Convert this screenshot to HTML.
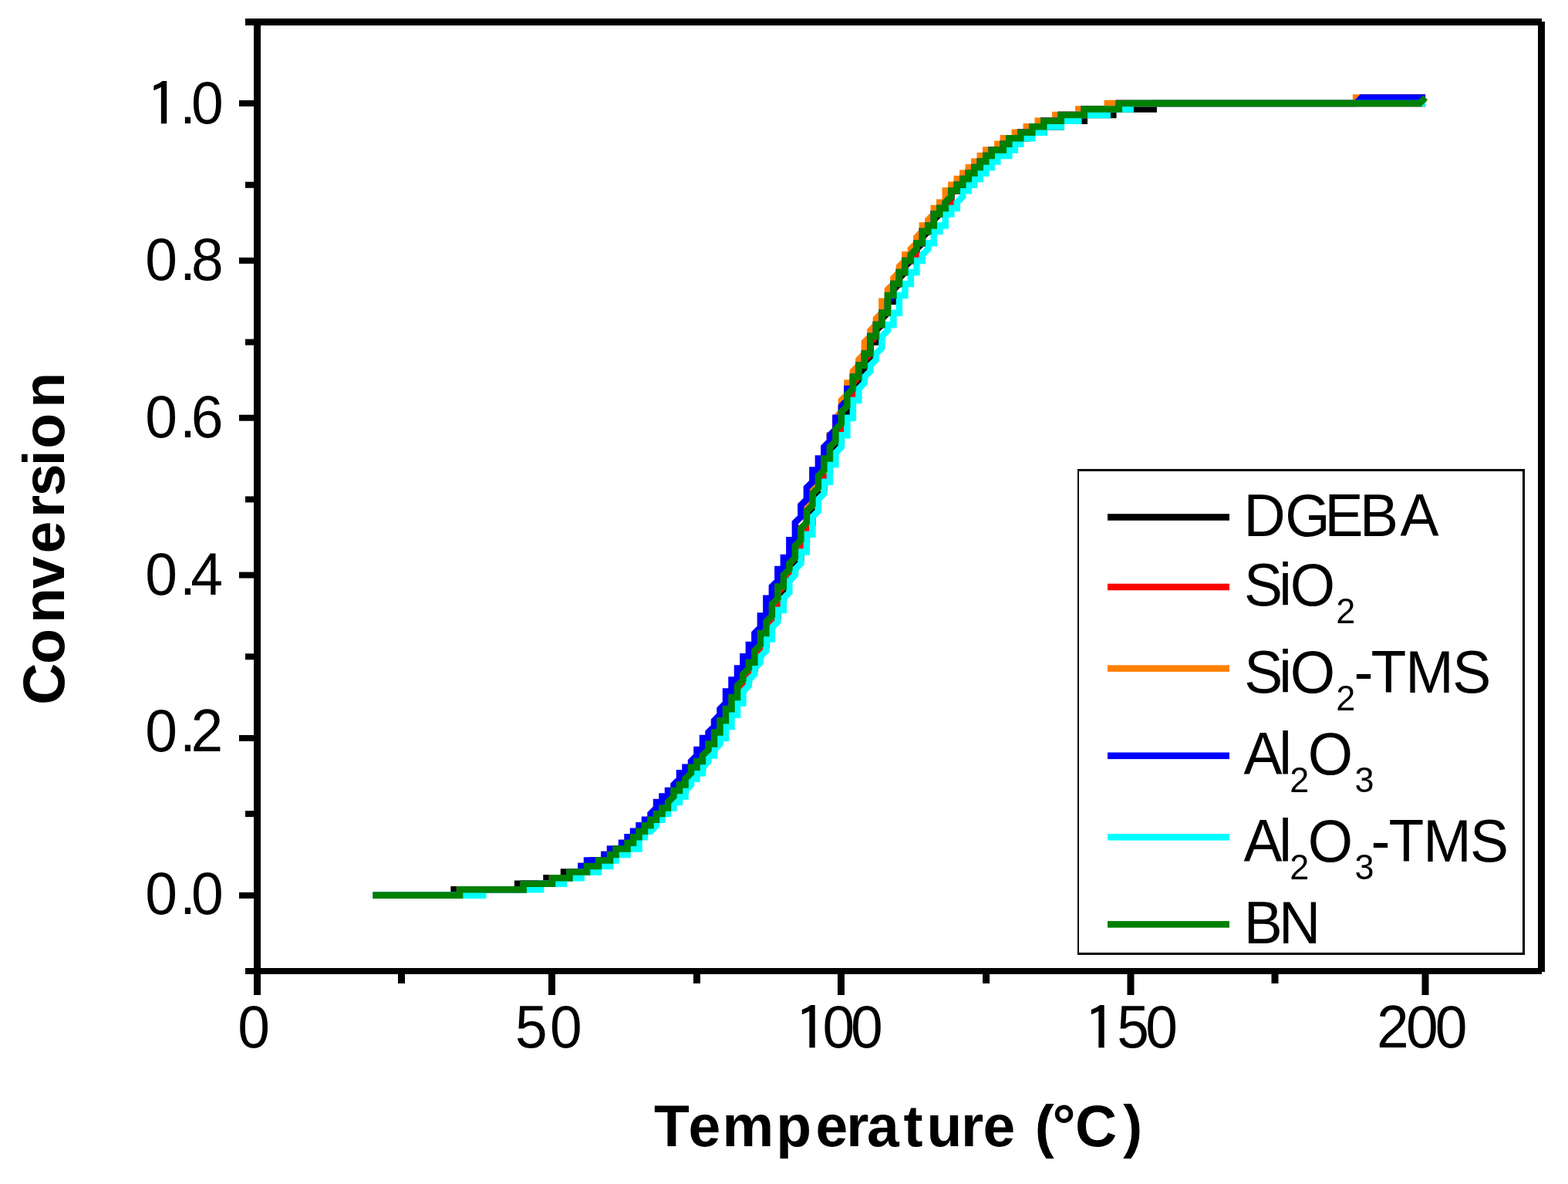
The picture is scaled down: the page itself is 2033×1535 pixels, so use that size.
<!DOCTYPE html>
<html lang="en"><head><meta charset="utf-8"><title>Conversion vs Temperature</title>
<style>html,body{margin:0;padding:0;background:#fff;}body{width:2033px;height:1535px;}svg{display:block;}text{font-family:"Liberation Sans", Arial, Helvetica, sans-serif;fill:#000;font-size:75px;white-space:pre;}.b{font-weight:bold;}.s{font-size:45px;}.i{font-family:IPAGothic,"Liberation Sans",sans-serif;}</style></head><body>
<svg width="2033" height="1535" viewBox="0 0 2033 1535">
<rect x="0.00" y="0.00" width="2033.00" height="1535.00" fill="#fff"/>
<g id="curves">
<path d="M483.6,1160.8 L588.6,1160.8 L588.6,1153.2 L671.1,1153.2 L671.1,1145.7 L708.5,1145.7 L708.5,1138.2 L731.0,1138.2 L731.0,1130.6 L753.5,1130.6 L753.5,1123.0 L768.5,1123.0 L768.5,1115.5 L783.5,1115.5 L783.5,1107.9 L798.5,1107.9 L798.5,1100.4 L813.5,1100.4 L813.5,1092.8 L821.0,1092.8 L821.0,1085.3 L828.5,1085.3 L828.5,1077.8 L836.0,1077.8 L836.0,1070.2 L843.5,1070.2 L843.5,1062.7 L851.0,1062.7 L851.0,1055.1 L858.5,1055.1 L858.5,1047.5 L866.0,1047.5 L866.0,1040.0 L873.5,1040.0 L873.5,1032.4 L881.0,1032.4 L881.0,1024.9 L888.5,1024.9 L888.5,1017.4 L896.0,1009.8 L896.0,1002.2 L903.5,1002.2 L903.5,994.7 L911.0,994.7 L911.0,987.1 L918.5,979.6 L918.5,972.0 L926.0,972.0 L926.0,964.5 L933.5,956.9 L933.5,949.4 L941.0,941.9 L941.0,934.3 L948.5,926.8 L948.5,919.2 L956.0,911.6 L956.0,904.1 L963.4,896.5 L963.4,881.4 L970.9,881.4 L970.9,866.4 L978.4,866.4 L978.4,858.8 L985.9,851.2 L985.9,836.1 L993.4,836.1 L993.4,821.0 L1000.9,813.5 L1000.9,798.4 L1008.4,798.4 L1008.4,775.8 L1015.9,775.8 L1015.9,760.6 L1023.4,753.1 L1023.4,738.0 L1030.9,738.0 L1030.9,722.9 L1038.4,722.9 L1038.4,700.2 L1045.9,700.2 L1045.9,677.6 L1053.4,677.6 L1053.4,654.9 L1060.9,647.4 L1060.9,632.3 L1068.4,632.3 L1068.4,609.6 L1075.9,609.6 L1075.9,594.5 L1083.4,587.0 L1083.4,571.9 L1090.9,571.9 L1090.9,549.2 L1098.4,541.7 L1098.4,526.6 L1105.9,519.0 L1105.9,503.9 L1113.4,496.4 L1113.4,481.3 L1120.9,481.3 L1120.9,466.2 L1128.4,466.2 L1128.4,443.6 L1135.9,443.6 L1135.9,428.4 L1143.4,420.9 L1143.4,413.3 L1150.9,405.8 L1150.9,390.7 L1158.4,390.7 L1158.4,375.6 L1165.9,368.0 L1165.9,360.5 L1173.4,352.9 L1173.4,345.4 L1180.9,337.9 L1180.9,330.3 L1188.4,330.3 L1188.4,322.8 L1195.9,315.2 L1195.9,307.6 L1203.4,300.1 L1203.4,292.5 L1210.8,292.5 L1210.8,285.0 L1218.3,277.4 L1218.3,269.9 L1225.8,269.9 L1225.8,262.4 L1233.3,262.4 L1233.3,247.2 L1240.8,247.2 L1240.8,239.7 L1248.3,239.7 L1248.3,232.1 L1255.8,232.1 L1255.8,224.6 L1263.3,224.6 L1263.3,217.1 L1270.8,217.1 L1270.8,209.5 L1278.3,209.5 L1278.3,201.9 L1285.8,201.9 L1285.8,194.4 L1300.8,194.4 L1300.8,186.8 L1315.8,186.8 L1315.8,179.3 L1330.8,179.3 L1330.8,171.8 L1353.3,171.8 L1353.3,164.2 L1375.8,164.2 L1375.8,156.7 L1405.8,156.7 L1405.8,149.1 L1443.3,149.1 L1443.3,141.6 L1495.7,141.6 L1495.7,134.0 L1848.1,134.0" fill="none" stroke="#000000" stroke-width="8.5" stroke-linejoin="miter" stroke-miterlimit="10"/>
<path d="M483.6,1160.8 L596.1,1160.8 L596.1,1153.2 L678.6,1153.2 L678.6,1145.7 L716.0,1145.7 L716.0,1138.2 L738.5,1138.2 L738.5,1130.6 L761.0,1130.6 L761.0,1123.0 L776.0,1123.0 L776.0,1115.5 L791.0,1115.5 L791.0,1107.9 L798.5,1107.9 L798.5,1100.4 L813.5,1100.4 L813.5,1092.8 L821.0,1092.8 L821.0,1085.3 L828.5,1085.3 L828.5,1077.8 L836.0,1077.8 L836.0,1070.2 L843.5,1070.2 L843.5,1062.7 L851.0,1062.7 L851.0,1055.1 L858.5,1055.1 L858.5,1047.5 L866.0,1047.5 L866.0,1040.0 L873.5,1032.4 L873.5,1024.9 L881.0,1024.9 L881.0,1017.4 L888.5,1017.4 L888.5,1009.8 L896.0,1009.8 L896.0,1002.2 L903.5,994.7 L903.5,987.1 L911.0,987.1 L911.0,979.6 L918.5,972.0 L918.5,964.5 L926.0,964.5 L926.0,949.4 L933.5,949.4 L933.5,934.3 L941.0,934.3 L941.0,919.2 L948.5,919.2 L948.5,904.1 L956.0,904.1 L956.0,889.0 L963.4,889.0 L963.4,873.9 L970.9,873.9 L970.9,858.8 L978.4,858.8 L978.4,843.7 L985.9,843.7 L985.9,828.6 L993.4,821.0 L993.4,805.9 L1000.9,805.9 L1000.9,783.3 L1008.4,783.3 L1008.4,768.2 L1015.9,760.6 L1015.9,745.5 L1023.4,745.5 L1023.4,730.4 L1030.9,722.9 L1030.9,707.8 L1038.4,707.8 L1038.4,685.1 L1045.9,685.1 L1045.9,662.5 L1053.4,654.9 L1053.4,639.8 L1060.9,632.3 L1060.9,617.2 L1068.4,617.2 L1068.4,602.1 L1075.9,594.5 L1075.9,579.5 L1083.4,571.9 L1083.4,556.8 L1090.9,556.8 L1090.9,534.1 L1098.4,526.6 L1098.4,511.5 L1105.9,511.5 L1105.9,496.4 L1113.4,488.8 L1113.4,473.8 L1120.9,473.8 L1120.9,466.2 L1128.4,458.6 L1128.4,443.6 L1135.9,436.0 L1135.9,420.9 L1143.4,420.9 L1143.4,405.8 L1150.9,405.8 L1150.9,390.7 L1158.4,383.1 L1158.4,368.0 L1165.9,368.0 L1165.9,352.9 L1173.4,352.9 L1173.4,337.9 L1180.9,337.9 L1180.9,330.3 L1188.4,330.3 L1188.4,315.2 L1195.9,315.2 L1195.9,300.1 L1203.4,300.1 L1203.4,292.5 L1210.8,292.5 L1210.8,277.4 L1218.3,277.4 L1218.3,269.9 L1225.8,269.9 L1225.8,262.4 L1233.3,262.4 L1233.3,247.2 L1240.8,247.2 L1240.8,239.7 L1248.3,239.7 L1248.3,232.1 L1255.8,232.1 L1255.8,224.6 L1263.3,224.6 L1263.3,217.1 L1270.8,217.1 L1270.8,209.5 L1278.3,209.5 L1278.3,201.9 L1285.8,201.9 L1285.8,194.4 L1300.8,194.4 L1300.8,186.8 L1308.3,186.8 L1308.3,179.3 L1323.3,179.3 L1323.3,171.8 L1338.3,171.8 L1338.3,164.2 L1353.3,164.2 L1353.3,156.7 L1375.8,156.7 L1375.8,149.1 L1405.8,149.1 L1405.8,141.6 L1450.8,141.6 L1450.8,134.0 L1848.1,134.0" fill="none" stroke="#ff0000" stroke-width="8.5" stroke-linejoin="miter" stroke-miterlimit="10"/>
<path d="M483.6,1160.8 L596.1,1160.8 L596.1,1153.2 L678.6,1153.2 L678.6,1145.7 L716.0,1145.7 L716.0,1138.2 L738.5,1138.2 L738.5,1130.6 L761.0,1130.6 L761.0,1123.0 L776.0,1123.0 L776.0,1115.5 L791.0,1115.5 L791.0,1107.9 L798.5,1107.9 L798.5,1100.4 L813.5,1100.4 L813.5,1092.8 L821.0,1092.8 L821.0,1085.3 L828.5,1085.3 L828.5,1077.8 L836.0,1077.8 L836.0,1070.2 L843.5,1070.2 L843.5,1062.7 L851.0,1062.7 L851.0,1055.1 L858.5,1055.1 L858.5,1047.5 L866.0,1047.5 L866.0,1040.0 L873.5,1032.4 L873.5,1024.9 L881.0,1024.9 L881.0,1017.4 L888.5,1017.4 L888.5,1009.8 L896.0,1002.2 L896.0,994.7 L903.5,994.7 L903.5,987.1 L911.0,987.1 L911.0,979.6 L918.5,972.0 L918.5,964.5 L926.0,964.5 L926.0,949.4 L933.5,949.4 L933.5,934.3 L941.0,934.3 L941.0,919.2 L948.5,919.2 L948.5,904.1 L956.0,904.1 L956.0,889.0 L963.4,881.4 L963.4,873.9 L970.9,866.4 L970.9,858.8 L978.4,858.8 L978.4,843.7 L985.9,836.1 L985.9,821.0 L993.4,821.0 L993.4,805.9 L1000.9,798.4 L1000.9,783.3 L1008.4,775.8 L1008.4,760.6 L1015.9,760.6 L1015.9,745.5 L1023.4,738.0 L1023.4,730.4 L1030.9,722.9 L1030.9,707.8 L1038.4,700.2 L1038.4,685.1 L1045.9,677.6 L1045.9,654.9 L1053.4,654.9 L1053.4,632.3 L1060.9,632.3 L1060.9,609.6 L1068.4,609.6 L1068.4,587.0 L1075.9,587.0 L1075.9,564.3 L1083.4,564.3 L1083.4,541.7 L1090.9,534.1 L1090.9,519.0 L1098.4,511.5 L1098.4,496.4 L1105.9,496.4 L1105.9,481.3 L1113.4,473.8 L1113.4,466.2 L1120.9,458.6 L1120.9,443.6 L1128.4,436.0 L1128.4,428.4 L1135.9,420.9 L1135.9,413.3 L1143.4,405.8 L1143.4,390.7 L1150.9,390.7 L1150.9,375.6 L1158.4,368.0 L1158.4,360.5 L1165.9,352.9 L1165.9,345.4 L1173.4,337.9 L1173.4,330.3 L1180.9,330.3 L1180.9,322.8 L1188.4,315.2 L1188.4,307.6 L1195.9,300.1 L1195.9,292.5 L1203.4,292.5 L1203.4,285.0 L1210.8,277.4 L1210.8,269.9 L1218.3,269.9 L1218.3,262.4 L1225.8,262.4 L1225.8,247.2 L1233.3,247.2 L1233.3,239.7 L1240.8,239.7 L1240.8,232.1 L1248.3,232.1 L1248.3,224.6 L1255.8,224.6 L1255.8,217.1 L1263.3,217.1 L1263.3,209.5 L1270.8,209.5 L1270.8,201.9 L1278.3,201.9 L1278.3,194.4 L1293.3,194.4 L1293.3,186.8 L1300.8,186.8 L1300.8,179.3 L1315.8,179.3 L1315.8,171.8 L1330.8,171.8 L1330.8,164.2 L1345.8,164.2 L1345.8,156.7 L1368.3,156.7 L1368.3,149.1 L1398.3,149.1 L1398.3,141.6 L1435.8,141.6 L1435.8,134.0 L1758.1,134.0 L1758.1,126.5 L1848.1,126.5" fill="none" stroke="#ff8000" stroke-width="8.5" stroke-linejoin="miter" stroke-miterlimit="10"/>
<path d="M483.6,1160.8 L596.1,1160.8 L596.1,1153.2 L678.6,1153.2 L678.6,1145.7 L716.0,1145.7 L716.0,1138.2 L738.5,1138.2 L738.5,1130.6 L753.5,1130.6 L753.5,1123.0 L761.0,1123.0 L761.0,1115.5 L783.5,1115.5 L783.5,1107.9 L791.0,1107.9 L791.0,1100.4 L806.0,1100.4 L806.0,1092.8 L813.5,1092.8 L813.5,1085.3 L821.0,1085.3 L821.0,1077.8 L828.5,1077.8 L828.5,1070.2 L836.0,1070.2 L836.0,1062.7 L843.5,1062.7 L843.5,1055.1 L851.0,1047.5 L851.0,1040.0 L858.5,1040.0 L858.5,1032.4 L866.0,1032.4 L866.0,1024.9 L873.5,1024.9 L873.5,1017.4 L881.0,1009.8 L881.0,1002.2 L888.5,1002.2 L888.5,994.7 L896.0,994.7 L896.0,987.1 L903.5,979.6 L903.5,972.0 L911.0,972.0 L911.0,956.9 L918.5,956.9 L918.5,949.4 L926.0,941.9 L926.0,934.3 L933.5,926.8 L933.5,919.2 L941.0,911.6 L941.0,896.5 L948.5,896.5 L948.5,881.4 L956.0,881.4 L956.0,866.4 L963.4,866.4 L963.4,851.2 L970.9,851.2 L970.9,836.1 L978.4,836.1 L978.4,821.0 L985.9,813.5 L985.9,798.4 L993.4,798.4 L993.4,775.8 L1000.9,775.8 L1000.9,760.6 L1008.4,753.1 L1008.4,738.0 L1015.9,738.0 L1015.9,722.9 L1023.4,722.9 L1023.4,700.2 L1030.9,700.2 L1030.9,677.6 L1038.4,670.0 L1038.4,654.9 L1045.9,647.4 L1045.9,632.3 L1053.4,624.8 L1053.4,609.6 L1060.9,609.6 L1060.9,594.5 L1068.4,594.5 L1068.4,579.5 L1075.9,571.9 L1075.9,564.3 L1083.4,556.8 L1083.4,541.7 L1090.9,541.7 L1090.9,526.6 L1098.4,519.0 L1098.4,503.9 L1105.9,503.9 L1105.9,488.8 L1113.4,488.8 L1113.4,473.8 L1120.9,473.8 L1120.9,458.6 L1128.4,458.6 L1128.4,436.0 L1135.9,436.0 L1135.9,420.9 L1143.4,420.9 L1143.4,405.8 L1150.9,405.8 L1150.9,390.7 L1158.4,383.1 L1158.4,368.0 L1165.9,368.0 L1165.9,352.9 L1173.4,352.9 L1173.4,337.9 L1180.9,337.9 L1180.9,330.3 L1188.4,322.8 L1188.4,315.2 L1195.9,315.2 L1195.9,300.1 L1203.4,300.1 L1203.4,292.5 L1210.8,292.5 L1210.8,277.4 L1218.3,277.4 L1218.3,269.9 L1225.8,269.9 L1225.8,262.4 L1233.3,254.8 L1233.3,247.2 L1240.8,247.2 L1240.8,239.7 L1248.3,239.7 L1248.3,232.1 L1255.8,232.1 L1255.8,224.6 L1263.3,224.6 L1263.3,217.1 L1270.8,217.1 L1270.8,209.5 L1278.3,209.5 L1278.3,201.9 L1285.8,201.9 L1285.8,194.4 L1300.8,194.4 L1300.8,186.8 L1308.3,186.8 L1308.3,179.3 L1323.3,179.3 L1323.3,171.8 L1338.3,171.8 L1338.3,164.2 L1353.3,164.2 L1353.3,156.7 L1375.8,156.7 L1375.8,149.1 L1405.8,149.1 L1405.8,141.6 L1450.8,141.6 L1450.8,134.0 L1758.1,134.0 L1765.6,126.5 L1848.1,126.5" fill="none" stroke="#0000ff" stroke-width="8.5" stroke-linejoin="miter" stroke-miterlimit="10"/>
<path d="M483.6,1160.8 L626.1,1160.8 L626.1,1153.2 L701.1,1153.2 L701.1,1145.7 L731.0,1145.7 L731.0,1138.2 L753.5,1138.2 L753.5,1130.6 L776.0,1130.6 L776.0,1123.0 L791.0,1123.0 L791.0,1115.5 L798.5,1115.5 L798.5,1107.9 L813.5,1107.9 L813.5,1100.4 L828.5,1100.4 L828.5,1085.3 L836.0,1085.3 L836.0,1077.8 L843.5,1077.8 L851.0,1070.2 L851.0,1062.7 L858.5,1062.7 L858.5,1055.1 L866.0,1055.1 L866.0,1047.5 L873.5,1047.5 L873.5,1040.0 L881.0,1040.0 L881.0,1032.4 L888.5,1032.4 L888.5,1024.9 L896.0,1017.4 L896.0,1009.8 L903.5,1009.8 L903.5,1002.2 L911.0,1002.2 L911.0,994.7 L918.5,987.1 L918.5,979.6 L926.0,979.6 L926.0,972.0 L933.5,964.5 L933.5,956.9 L941.0,956.9 L941.0,941.9 L948.5,941.9 L948.5,926.8 L956.0,926.8 L956.0,911.6 L963.4,911.6 L963.4,896.5 L970.9,889.0 L970.9,881.4 L978.4,873.9 L978.4,866.4 L985.9,858.8 L985.9,851.2 L993.4,843.7 L993.4,828.6 L1000.9,828.6 L1000.9,813.5 L1008.4,805.9 L1008.4,790.9 L1015.9,790.9 L1015.9,775.8 L1023.4,768.2 L1023.4,753.1 L1030.9,745.5 L1030.9,738.0 L1038.4,730.4 L1038.4,715.4 L1045.9,715.4 L1045.9,692.7 L1053.4,692.7 L1053.4,670.0 L1060.9,662.5 L1060.9,647.4 L1068.4,639.8 L1068.4,624.8 L1075.9,624.8 L1075.9,602.1 L1083.4,602.1 L1083.4,587.0 L1090.9,579.5 L1090.9,564.3 L1098.4,564.3 L1098.4,541.7 L1105.9,541.7 L1105.9,519.0 L1113.4,519.0 L1113.4,503.9 L1120.9,496.4 L1120.9,488.8 L1128.4,481.3 L1128.4,473.8 L1135.9,466.2 L1135.9,458.6 L1143.4,451.1 L1143.4,436.0 L1150.9,428.4 L1150.9,420.9 L1158.4,420.9 L1158.4,405.8 L1165.9,405.8 L1165.9,383.1 L1173.4,383.1 L1173.4,368.0 L1180.9,368.0 L1180.9,352.9 L1188.4,352.9 L1188.4,337.9 L1195.9,337.9 L1195.9,330.3 L1203.4,322.8 L1203.4,315.2 L1210.8,315.2 L1210.8,300.1 L1218.3,300.1 L1218.3,292.5 L1225.8,292.5 L1225.8,277.4 L1233.3,277.4 L1233.3,269.9 L1240.8,269.9 L1240.8,262.4 L1248.3,254.8 L1248.3,247.2 L1255.8,247.2 L1255.8,239.7 L1263.3,239.7 L1263.3,232.1 L1270.8,232.1 L1270.8,224.6 L1278.3,224.6 L1278.3,217.1 L1285.8,217.1 L1285.8,209.5 L1293.3,209.5 L1293.3,201.9 L1308.3,201.9 L1308.3,194.4 L1315.8,194.4 L1315.8,186.8 L1323.3,186.8 L1323.3,179.3 L1338.3,179.3 L1338.3,171.8 L1353.3,171.8 L1353.3,164.2 L1375.8,164.2 L1375.8,156.7 L1398.3,156.7 L1398.3,149.1 L1435.8,149.1 L1435.8,141.6 L1465.7,141.6 L1465.7,134.0 L1848.1,134.0" fill="none" stroke="#00ffff" stroke-width="8.5" stroke-linejoin="miter" stroke-miterlimit="10"/>
<path d="M483.6,1160.8 L596.1,1160.8 L596.1,1153.2 L678.6,1153.2 L678.6,1145.7 L716.0,1145.7 L716.0,1138.2 L738.5,1138.2 L738.5,1130.6 L761.0,1130.6 L761.0,1123.0 L776.0,1123.0 L776.0,1115.5 L791.0,1115.5 L791.0,1107.9 L798.5,1107.9 L798.5,1100.4 L813.5,1100.4 L813.5,1092.8 L821.0,1092.8 L821.0,1085.3 L828.5,1085.3 L828.5,1077.8 L836.0,1077.8 L836.0,1070.2 L843.5,1070.2 L843.5,1062.7 L851.0,1062.7 L851.0,1055.1 L858.5,1055.1 L858.5,1047.5 L866.0,1047.5 L866.0,1040.0 L873.5,1032.4 L873.5,1024.9 L881.0,1024.9 L881.0,1017.4 L888.5,1017.4 L888.5,1009.8 L896.0,1002.2 L896.0,994.7 L903.5,994.7 L903.5,987.1 L911.0,987.1 L911.0,979.6 L918.5,972.0 L918.5,964.5 L926.0,964.5 L926.0,949.4 L933.5,949.4 L933.5,934.3 L941.0,934.3 L941.0,919.2 L948.5,919.2 L948.5,904.1 L956.0,904.1 L956.0,889.0 L963.4,881.4 L963.4,873.9 L970.9,866.4 L970.9,858.8 L978.4,858.8 L978.4,843.7 L985.9,836.1 L985.9,821.0 L993.4,821.0 L993.4,805.9 L1000.9,798.4 L1000.9,783.3 L1008.4,775.8 L1008.4,760.6 L1015.9,760.6 L1015.9,745.5 L1023.4,738.0 L1023.4,730.4 L1030.9,722.9 L1030.9,707.8 L1038.4,700.2 L1038.4,685.1 L1045.9,677.6 L1045.9,662.5 L1053.4,654.9 L1053.4,639.8 L1060.9,632.3 L1060.9,617.2 L1068.4,609.6 L1068.4,594.5 L1075.9,594.5 L1075.9,579.5 L1083.4,571.9 L1083.4,556.8 L1090.9,549.2 L1090.9,534.1 L1098.4,526.6 L1098.4,511.5 L1105.9,503.9 L1105.9,488.8 L1113.4,488.8 L1113.4,473.8 L1120.9,473.8 L1120.9,458.6 L1128.4,458.6 L1128.4,436.0 L1135.9,436.0 L1135.9,420.9 L1143.4,420.9 L1143.4,405.8 L1150.9,405.8 L1150.9,383.1 L1158.4,383.1 L1158.4,368.0 L1165.9,368.0 L1165.9,352.9 L1173.4,352.9 L1173.4,337.9 L1180.9,337.9 L1180.9,330.3 L1188.4,322.8 L1188.4,315.2 L1195.9,315.2 L1195.9,300.1 L1203.4,300.1 L1203.4,292.5 L1210.8,292.5 L1210.8,277.4 L1218.3,277.4 L1218.3,269.9 L1225.8,269.9 L1225.8,262.4 L1233.3,254.8 L1233.3,247.2 L1240.8,247.2 L1240.8,239.7 L1248.3,239.7 L1248.3,232.1 L1255.8,232.1 L1255.8,224.6 L1263.3,224.6 L1263.3,217.1 L1270.8,217.1 L1270.8,209.5 L1278.3,209.5 L1278.3,201.9 L1285.8,201.9 L1285.8,194.4 L1300.8,194.4 L1300.8,186.8 L1308.3,186.8 L1308.3,179.3 L1323.3,179.3 L1323.3,171.8 L1338.3,171.8 L1338.3,164.2 L1353.3,164.2 L1353.3,156.7 L1375.8,156.7 L1375.8,149.1 L1405.8,149.1 L1405.8,141.6 L1450.8,141.6 L1450.8,134.0 L1840.6,134.0 L1848.1,126.5" fill="none" stroke="#008000" stroke-width="8.5" stroke-linejoin="miter" stroke-miterlimit="10"/>
</g>
<g id="axes">
<rect x="318.00" y="24.00" width="1681.00" height="9.00" fill="#000"/>
<rect x="318.00" y="1255.00" width="1681.00" height="8.00" fill="#000"/>
<rect x="329.00" y="24.00" width="9.00" height="1266.00" fill="#000"/>
<rect x="1994.00" y="28.00" width="9.00" height="1232.00" fill="#000"/>
<rect x="310.00" y="130.00" width="21.00" height="8.00" fill="#000"/>
<rect x="310.00" y="333.86" width="21.00" height="8.00" fill="#000"/>
<rect x="310.00" y="537.73" width="21.00" height="8.00" fill="#000"/>
<rect x="310.00" y="741.59" width="21.00" height="8.00" fill="#000"/>
<rect x="310.00" y="953.00" width="21.00" height="8.00" fill="#000"/>
<rect x="310.00" y="1156.87" width="21.00" height="8.00" fill="#000"/>
<rect x="318.00" y="235.71" width="13.00" height="8.00" fill="#000"/>
<rect x="318.00" y="439.57" width="13.00" height="8.00" fill="#000"/>
<rect x="318.00" y="643.43" width="13.00" height="8.00" fill="#000"/>
<rect x="318.00" y="847.30" width="13.00" height="8.00" fill="#000"/>
<rect x="318.00" y="1051.16" width="13.00" height="8.00" fill="#000"/>
<rect x="711.00" y="1258.00" width="9.00" height="32.00" fill="#000"/>
<rect x="1086.00" y="1258.00" width="9.00" height="32.00" fill="#000"/>
<rect x="1461.50" y="1258.00" width="9.00" height="32.00" fill="#000"/>
<rect x="1843.50" y="1258.00" width="9.00" height="32.00" fill="#000"/>
<rect x="516.00" y="1258.00" width="9.00" height="17.00" fill="#000"/>
<rect x="899.00" y="1258.00" width="9.00" height="17.00" fill="#000"/>
<rect x="1274.10" y="1258.00" width="9.00" height="17.00" fill="#000"/>
<rect x="1648.50" y="1258.00" width="9.00" height="17.00" fill="#000"/>
</g>
<g id="ylabels">
<text transform="matrix(1 0 0 1.045 0 160.2)"><tspan class="i" x="188.64" y="3.9" textLength="45" lengthAdjust="spacingAndGlyphs">1</tspan><tspan x="233.08 248.09" y="0">.0</tspan></text>
<text transform="matrix(1 0 0 1.045 0 363.3)"><tspan x="188.19 233.08 247.94" y="0">0.8</tspan></text>
<text transform="matrix(1 0 0 1.045 0 567.3)"><tspan x="188.19 233.08 247.64" y="0">0.6</tspan></text>
<text transform="matrix(1 0 0 1.045 0 770.6)"><tspan x="188.19 233.08 247.28" y="0">0.4</tspan></text>
<text transform="matrix(1 0 0 1.045 0 974.3)"><tspan x="188.19 233.08 247.59" y="0">0.2</tspan></text>
<text transform="matrix(1 0 0 1.045 0 1185.3)"><tspan x="188.19 233.08 248.09" y="0">0.0</tspan></text>
</g><g id="xlabels">
<text transform="matrix(1 0 0 1.045 0 1358.3)"><tspan x="308.19" y="0">0</tspan></text>
<text transform="matrix(1 0 0 1.045 0 1358.3)"><tspan x="668.07 712.89" y="0">50</tspan></text>
<text transform="matrix(1 0 0 1.045 0 1358.3)"><tspan class="i" x="1029.24" y="3.9" textLength="45" lengthAdjust="spacingAndGlyphs">1</tspan><tspan x="1066.59 1103.09" y="0">00</tspan></text>
<text transform="matrix(1 0 0 1.045 0 1358.3)"><tspan class="i" x="1404.24" y="3.9" textLength="45" lengthAdjust="spacingAndGlyphs">1</tspan><tspan x="1448.37 1485.19" y="0">50</tspan></text>
<text transform="matrix(1 0 0 1.045 0 1358.3)"><tspan x="1785.09 1822.89 1860.79" y="0">200</tspan></text>
</g>
<text class="b" transform="matrix(1 0 0 1.020 0 1486)"><tspan x="847.93 892.41 936.46 1006.31 1057.41 1097.15 1124.11 1171.51 1201.59 1246.05 1274.46 1316.17 1341.73 1364.62 1394.11 1456.19" y="0">Temperature (°C)</tspan></text>
<text class="b" transform="translate(83.2 0) rotate(-90) scale(1 1.020)"><tspan x="-913.79 -860.96 -807.95 -763.14 -717.59 -671 -643.24 -604.28 -581.81 -528.85" y="0">Conversion</tspan></text>
<g id="legend">
<rect x="1397.00" y="608.00" width="580.00" height="630.00" fill="#fff"/>
<rect x="1397.00" y="608.00" width="580.00" height="3.00" fill="#000"/>
<rect x="1397.00" y="1235.00" width="580.00" height="3.00" fill="#000"/>
<rect x="1397.00" y="608.00" width="2.00" height="630.00" fill="#000"/>
<rect x="1974.00" y="608.00" width="3.00" height="630.00" fill="#000"/>
<rect x="1436.00" y="666.20" width="158.00" height="8.60" fill="#000000"/>
<rect x="1436.00" y="756.70" width="158.00" height="8.60" fill="#ff0000"/>
<rect x="1436.00" y="862.30" width="158.00" height="8.60" fill="#ff8000"/>
<rect x="1436.00" y="975.50" width="158.00" height="8.60" fill="#0000ff"/>
<rect x="1436.00" y="1081.00" width="158.00" height="8.60" fill="#00ffff"/>
<rect x="1436.00" y="1194.10" width="158.00" height="8.60" fill="#008000"/>
<text transform="matrix(1 0 0 1.045 0 694.8)"><tspan x="1612.44 1666.25 1717.62 1762.94 1815.49" y="0">DGEBA</tspan></text>
<text transform="matrix(1 0 0 1.045 0 784.8)"><tspan x="1613.11 1658.24 1672.75" y="0">SiO</tspan><tspan class="s" x="1732.19" y="22.11">2</tspan></text>
<text transform="matrix(1 0 0 1.045 0 898.2)"><tspan x="1613.16 1658.34 1672.8" y="0">SiO</tspan><tspan class="s" x="1732.19" y="22.01">2</tspan><tspan x="1755.41 1777.61 1822.21 1883.16" y="0">-TMS</tspan></text>
<text transform="matrix(1 0 0 1.045 0 1003.9)"><tspan x="1612.49 1658.3" y="0">Al</tspan><tspan class="s" x="1672.14" y="22.01">2</tspan><tspan x="1695.8" y="0">O</tspan><tspan class="s" x="1756.42" y="22.01">3</tspan></text>
<text transform="matrix(1 0 0 1.045 0 1116.9)"><tspan x="1612.49 1658.3" y="0">Al</tspan><tspan class="s" x="1672.14" y="22.11">2</tspan><tspan x="1695.8" y="0">O</tspan><tspan class="s" x="1756.42" y="22.11">3</tspan><tspan x="1777.56 1800.56 1845.21 1906.01" y="0">-TMS</tspan></text>
<text transform="matrix(1 0 0 1.045 0 1222.7)"><tspan x="1612.79 1657.95" y="0">BN</tspan></text>
</g>
</svg></body></html>
